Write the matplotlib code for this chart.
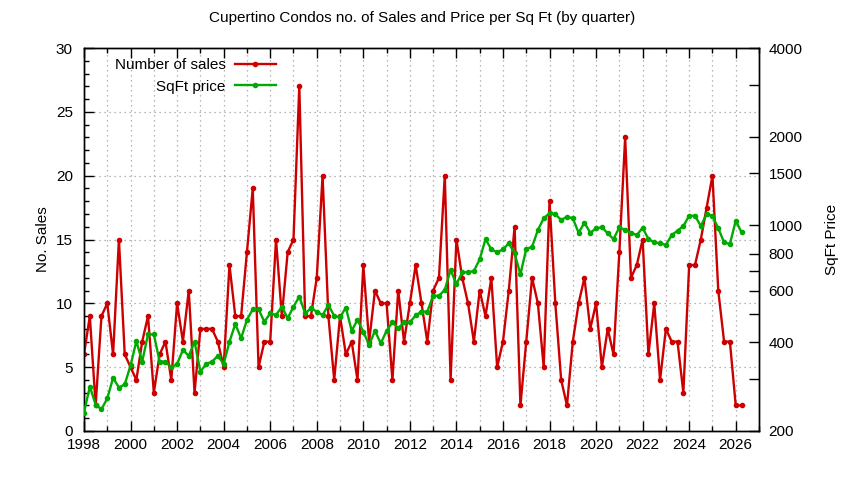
import numpy as np
import matplotlib
matplotlib.use("Agg")
import matplotlib.pyplot as plt
from matplotlib.ticker import MultipleLocator, FixedLocator, NullFormatter, FixedFormatter
from matplotlib.lines import Line2D

plt.rcParams['font.family'] = ['Liberation Sans', 'DejaVu Sans']

title = "Cupertino Condos no. of Sales and Price per Sq Ft (by quarter)"
start_year = 1998
n_quarters = 114
quarters = [start_year + q / 4 for q in range(n_quarters)]

sales = [6, 9, 2, 9, 10, 6, 15, 6, 5, 4, 7, 9, 3, 6, 7, 4, 10, 7, 11, 3, 8, 8, 8, 7, 5, 13, 9, 9, 14, 19, 5, 7, 7, 15,
         9, 14, 15, 27, 9, 9, 12, 20, 9, 4, 9, 6, 7, 4, 13, 7, 11, 10, 10, 4, 11, 7, 10, 13, 10, 7, 11, 12, 20, 4, 15, 12, 10,
         7, 11, 9, 12, 5, 7, 11, 16, 2, 7, 12, 10, 5, 18, 10, 4, 2, 7, 10, 12, 8, 10, 5, 8, 6, 14, 23, 12, 13, 15, 6, 10, 4,
         8, 7, 7, 3, 13, 13, 15, 17.5, 20, 11, 7, 7, 2, 2]

price = [231, 283, 246, 237, 258, 303, 281, 288, 334, 404, 344, 426, 426, 344, 344, 329, 338, 377, 360, 402, 318, 338, 344, 360, 338, 402, 462, 413, 477, 518, 518, 470, 502, 495,
         529, 483, 529, 572, 502, 522, 509, 495, 536, 492, 487, 525, 438, 477, 435, 392, 438, 397, 438, 468, 447, 468, 468, 494, 509, 509, 576, 576, 603, 705, 630, 692, 692,
         699, 766, 897, 828, 809, 828, 868, 803, 681, 830, 845, 963, 1056, 1098, 1090, 1042, 1069, 1056, 943, 1020, 943, 976, 984, 939, 897, 984, 963, 943, 926, 980, 897, 875, 868,
         857, 926, 958, 994, 1077, 1077, 994, 1089, 1077, 976, 875, 863, 1036, 946]

x_major = list(range(1998, 2027, 2))
x_minor = list(range(1998, 2028, 1))
y2_major = [200, 400, 600, 800, 1000, 1500, 2000, 4000]
y2_minor = [300, 500, 700, 3000]

RED = '#cc0000'
GREEN = '#00aa00'
FS = 11

fig = plt.figure(figsize=(8.44, 4.8), dpi=100)
ax = fig.add_axes([84/844, 1-431/480, (759-84)/844, (431-48)/480])
ax2 = ax.twinx()

ax.plot(quarters, sales, color=RED, lw=1.7, marker='o', ms=3, zorder=3)
ax2.plot(quarters, price, color=GREEN, lw=1.7, marker='o', ms=3, zorder=3)

ax.set_xlim(1998, 2027)
ax.set_ylim(0, 30)
ax2.set_yscale('log')
ax2.set_ylim(200, 4000)

ax.xaxis.set_major_locator(FixedLocator(x_major))
ax.xaxis.set_minor_locator(FixedLocator(x_minor))
ax.yaxis.set_major_locator(MultipleLocator(5))
ax.yaxis.set_minor_locator(MultipleLocator(1))

ax2.yaxis.set_major_locator(FixedLocator(y2_major))
ax2.yaxis.set_major_formatter(FixedFormatter([str(v) for v in y2_major]))
ax2.yaxis.set_minor_locator(FixedLocator(y2_minor))
ax2.yaxis.set_minor_formatter(NullFormatter())

ax.tick_params(axis='x', which='both', direction='in', top=True, labelsize=FS, pad=5, colors='black')
ax.tick_params(axis='x', which='major', length=7, width=1)
ax.tick_params(axis='x', which='minor', length=3.5, width=1)
ax.tick_params(axis='y', which='both', direction='in', right=False, labelsize=FS, pad=8)
ax.tick_params(axis='y', which='major', length=7, width=1)
ax.tick_params(axis='y', which='minor', length=3.5, width=1)
ax2.tick_params(axis='y', which='both', direction='in', labelsize=FS, pad=7, length=7, width=1)

ax.grid(True, which='both', axis='x', color='#a0a0a0', linestyle=(0, (1, 3)), lw=0.9)
ax.grid(True, which='major', axis='y', color='#a0a0a0', linestyle=(0, (1, 3)), lw=0.9)
ax.set_axisbelow(True)

for sp in ax.spines.values():
    sp.set_linewidth(1)
for sp in ax2.spines.values():
    sp.set_linewidth(1)

ax.set_ylabel("No. Sales", fontsize=FS, labelpad=4)
ax2.set_ylabel("SqFt Price", fontsize=FS, labelpad=16)
fig.text(422/844, 1-18/480, title, ha='center', va='center', fontsize=FS)

handles = [Line2D([], [], color=RED, lw=1.7, marker='o', ms=3),
           Line2D([], [], color=GREEN, lw=1.7, marker='o', ms=3)]
leg = ax.legend(handles, ["Number of sales", "SqFt price"], loc='upper right',
                bbox_to_anchor=(276/844, 1-58/480), bbox_transform=fig.transFigure,
                frameon=False, markerfirst=False, fontsize=FS, handlelength=2.7,
                handletextpad=0.6, labelspacing=0.5, borderpad=0, borderaxespad=0)

fig.savefig("out.png", dpi=100)
